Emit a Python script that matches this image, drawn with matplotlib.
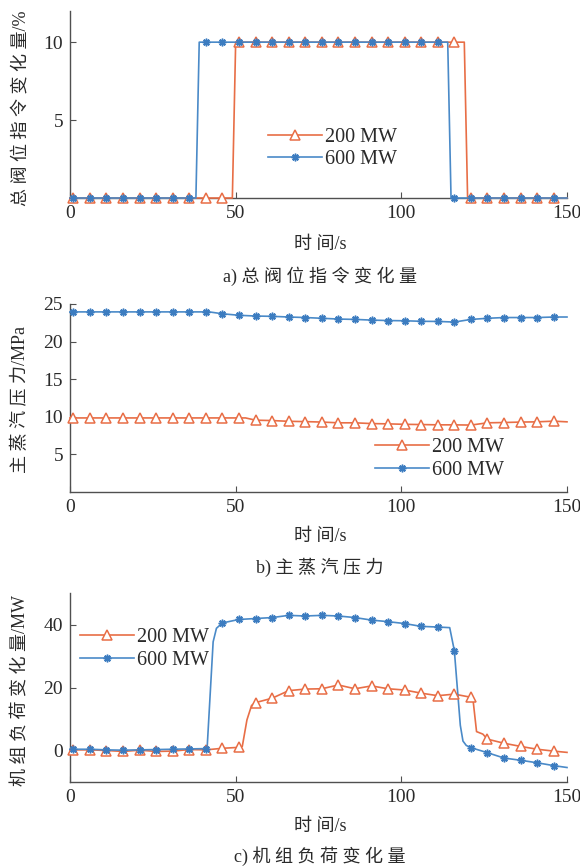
import numpy as np
import matplotlib
matplotlib.use("Agg")
import matplotlib.pyplot as plt
from matplotlib.lines import Line2D

plt.rcParams['font.family'] = ['Liberation Serif', 'Noto Sans CJK SC', 'DejaVu Sans']

# ---------------- data ----------------
series_names = ["200 MW", "600 MW"]
t_mark = np.arange(1, 150, 5)  # marker sample times (s)

# a) valve command change (%)
a_200_mark = [0]*10 + [10]*14 + [0]*6
a_600_mark = [0]*8 + [10]*15 + [0]*7
a_200_line_t = [0, 49, 50, 119, 120, 150]
a_200_line_v = [0, 0, 10, 10, 0, 0]
a_600_line_t = [0, 38, 39, 114, 115, 150]
a_600_line_v = [0, 0, 10, 10, 0, 0]

# b) main steam pressure (MPa)
b_200_mark = [9.85]*11 + [9.55, 9.5, 9.4, 9.36, 9.3, 9.2, 9.2, 9.1, 9.06, 9.0,
                          8.97, 8.93, 8.93, 8.9, 9.2, 9.24, 9.3, 9.33, 9.42]
b_200_extra_t = [0, 53, 150]
b_200_extra_v = [9.85, 9.85, 9.33]
b_600_mark = [23.95]*9 + [23.7, 23.5, 23.4, 23.36, 23.27, 23.2, 23.1, 23.0, 22.95, 22.86,
                          22.8, 22.77, 22.7, 22.68, 22.6, 22.95, 23.1, 23.2, 23.2, 23.2, 23.27]
b_600_extra_t = [0, 42, 150]
b_600_extra_v = [23.95, 23.95, 23.27]

# c) unit load change (MW)
c_200_mark = [0.2, 0.2, 0.0, -0.3, 0.1, -0.3, -0.2, 0.3, 0.2, 0.7, 1.0,
              15.2, 16.6, 19.0, 19.5, 19.6, 20.8, 19.6, 20.5, 19.6, 19.2, 18.2, 17.4, 17.9, 16.9,
              3.6, 2.3, 1.3, 0.4, -0.2]
c_200_extra_t = [0, 52.0, 53.4, 54.8, 121.7, 122.7, 124.6, 150]
c_200_extra_v = [0.2, 1.3, 9.7, 14.3, 15.5, 6.0, 5.2, -0.6]
c_600_mark = [0.4, 0.4, 0.2, 0.1, 0.2, 0.3, 0.4, 0.5, 0.6,
              40.5, 41.6, 41.9, 42.2, 42.9, 42.7, 42.9, 42.7, 42.2, 41.4, 40.9, 40.3, 39.4, 39.2,
              31.7, 0.9, -0.7, -2.4, -3.1, -3.9, -4.8]
c_600_extra_t = [0, 41.4, 43.2, 44.2, 114.6, 117.8, 118.6, 119.6, 150]
c_600_extra_v = [0.4, 1.0, 34.5, 38.8, 39.0, 8.0, 3.0, 1.6, -5.4]

x_ticks = [0, 50, 100, 150]
ylabels = ["总 阀 位 指 令 变 化 量/%", "主 蒸 汽 压 力/MPa", "机 组 负 荷 变 化 量/MW"]
captions = ["a) 总 阀 位 指 令 变 化 量", "b) 主 蒸 汽 压 力", "c) 机 组 负 荷 变 化 量"]
xlabel = "时 间/s"

# ---------------- style ----------------
c_or = '#E86E46'
c_bl = '#4A8AC8'
txt_c = '#2a2a2a'
spine_c = '#505050'
tick_fs = 14
leg_fs = 14.5
cjk_fs = 13

sty_200 = dict(color=c_or, lw=1.2, marker='^', ms=6.5, mfc='white', mec=c_or, mew=1.1)
sty_600 = dict(color=c_bl, lw=1.2, marker=(8, 2, 0), ms=5.5, mfc=c_bl, mec='#3C7CC0', mew=1.1)


def merge(tm, vm, te, ve):
    t = np.concatenate([np.asarray(tm, float), np.asarray(te, float)])
    v = np.concatenate([np.asarray(vm, float), np.asarray(ve, float)])
    o = np.argsort(t, kind='stable')
    return t[o], v[o]


fig = plt.figure(figsize=(5.8, 8.66), dpi=100)
left, width = 70/580, (567-70)/580
axes_rects = [
    [left, 1-198/866, width, (198-11)/866],
    [left, 1-492/866, width, (492-304)/866],
    [left, 1-782/866, width, (782-593)/866],
]
axs = [fig.add_axes(r) for r in axes_rects]


def style_ax(ax, ylim, yticks):
    ax.set_xlim(0, 150)
    ax.set_ylim(*ylim)
    ax.set_xticks(x_ticks)
    ax.set_yticks(yticks)
    for s in ['top', 'right']:
        ax.spines[s].set_visible(False)
    for s in ['left', 'bottom']:
        ax.spines[s].set_color(spine_c)
        ax.spines[s].set_linewidth(1.0)
    ax.tick_params(direction='in', length=4, width=0.8, colors=spine_c,
                   labelcolor=txt_c, labelsize=tick_fs, pad=5)
    for lab in ax.get_xticklabels() + ax.get_yticklabels():
        lab.set_family('Liberation Serif')


def plot_series(ax, tl, vl, tm, vm, sty):
    line_kw = {k: sty[k] for k in ('color', 'lw')}
    ax.plot(tl, vl, clip_on=False, zorder=3, **line_kw)
    ax.plot(tm, vm, linestyle='none', marker=sty['marker'], ms=sty['ms'],
            mfc=sty['mfc'], mec=sty['mec'], mew=sty['mew'], clip_on=False, zorder=4)


# a
ax = axs[0]
plot_series(ax, a_200_line_t, a_200_line_v, t_mark, a_200_mark, sty_200)
plot_series(ax, a_600_line_t, a_600_line_v, t_mark, a_600_mark, sty_600)
style_ax(ax, (0, 12), [5, 10])

# b
ax = axs[1]
tl, vl = merge(t_mark, b_200_mark, b_200_extra_t, b_200_extra_v)
plot_series(ax, tl, vl, t_mark, b_200_mark, sty_200)
tl, vl = merge(t_mark, b_600_mark, b_600_extra_t, b_600_extra_v)
plot_series(ax, tl, vl, t_mark, b_600_mark, sty_600)
style_ax(ax, (0, 25), [5, 10, 15, 20, 25])

# c
ax = axs[2]
tl, vl = merge(t_mark, c_200_mark, c_200_extra_t, c_200_extra_v)
plot_series(ax, tl, vl, t_mark, c_200_mark, sty_200)
tl, vl = merge(t_mark, c_600_mark, c_600_extra_t, c_600_extra_v)
plot_series(ax, tl, vl, t_mark, c_600_mark, sty_600)
style_ax(ax, (-10, 50), [0, 20, 40])

# legends
handles = [Line2D([], [], **sty_200), Line2D([], [], **sty_600)]
leg_anchor = [(268/580, 1-148.7/866), (375/580, 1-459/866), (80/580, 1-649/866)]
for ax, anc in zip(axs, leg_anchor):
    leg = fig.legend(handles, series_names, loc='center left', bbox_to_anchor=anc,
                     frameon=False, borderpad=0, borderaxespad=0, handlelength=2.7,
                     handletextpad=0.15, labelspacing=0.15,
                     prop={'family': 'Liberation Serif', 'size': leg_fs})
    for t in leg.get_texts():
        t.set_color(txt_c)

# labels
xc = 0.552
xl_y = [1-245/866, 1-537/866, 1-826/866]
cap_y = [1-276.5/866, 1-567/866, 1-856/866]
yl_y = [1-108/866, 1-400/866, 1-690/866]
for i in range(3):
    fig.text(xc, xl_y[i], xlabel, ha='center', va='center', fontsize=cjk_fs, color=txt_c)
    fig.text(xc, cap_y[i], captions[i], ha='center', va='center', fontsize=cjk_fs, color=txt_c)
    fig.text(21/580, yl_y[i], ylabels[i], ha='center', va='center', rotation=90,
             fontsize=cjk_fs, color=txt_c)

fig.savefig('out.png', dpi=100, facecolor='white')
